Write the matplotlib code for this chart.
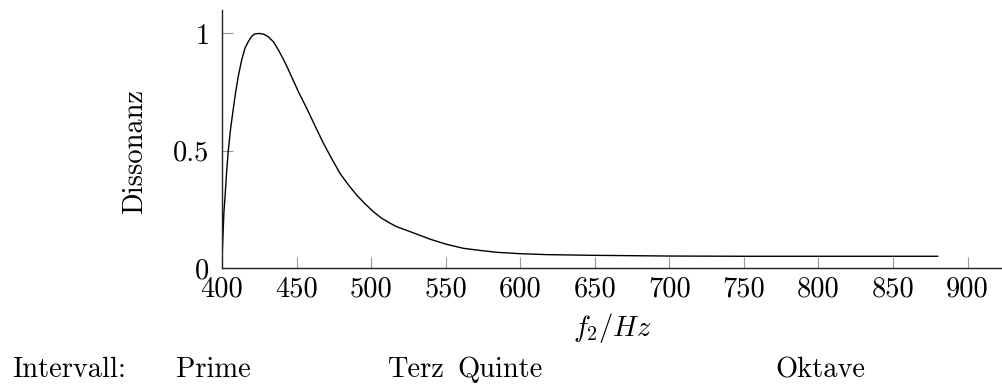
import matplotlib
matplotlib.use("Agg")
import matplotlib.pyplot as plt

plt.rcParams["font.family"] = ["cmr10", "DejaVu Serif"]
plt.rcParams["mathtext.fontset"] = "cm"
plt.rcParams["axes.unicode_minus"] = False

# Dissonanzkurve
freq = [400, 400.2, 401.3, 402, 403.1, 404.2, 405.8, 407.6, 409.2, 411,
        413.2, 415.4, 417.6, 420, 422.1, 425, 428, 431, 434.4, 437.8,
        441.1, 444.5, 451.2, 456.8, 462.4, 468, 473.6, 479.1, 484.7, 490.3,
        495.9, 501.5, 507.1, 512.7, 517.2, 528.3, 539.5, 550, 561.8,
        573, 584.2, 600, 617.8, 650, 700, 750, 800, 880]
dissonance = [0.0, 0.07, 0.24, 0.30, 0.41, 0.50, 0.596, 0.68, 0.752, 0.82,
              0.887, 0.937, 0.965, 0.989, 0.998, 1.0, 0.997, 0.986, 0.965,
              0.930, 0.891, 0.846, 0.752, 0.681, 0.606, 0.532, 0.466, 0.404,
              0.355, 0.311, 0.274, 0.240, 0.212, 0.191, 0.176, 0.150,
              0.123, 0.102, 0.084, 0.075, 0.067, 0.061, 0.057, 0.054, 0.051,
              0.050, 0.050, 0.050]

x_ticks = [400, 450, 500, 550, 600, 650, 700, 750, 800, 850, 900]
y_ticks = [0, 0.5, 1]
y_tick_labels = ["0", "0.5", "1"]

interval_names = ["Intervall:", "Prime", "Terz", "Quinte", "Oktave"]
interval_px = [12, 176, 387, 457, 775]

FS = 20.5
W, H = 1003, 385

fig = plt.figure(figsize=(W / 100, H / 100), dpi=100)
ax = fig.add_axes([222 / W, 1 - 268 / H, 1 - 222 / W, (268 - 10) / H])

ax.plot(freq, dissonance, color="black", linewidth=1.0)

ax.set_xlim(400, 923.8)
ax.set_ylim(0, 1.1)
ax.set_xticks(x_ticks)
ax.set_xticklabels([str(t) for t in x_ticks])
ax.set_yticks(y_ticks)
ax.set_yticklabels(y_tick_labels)

for s in ["top", "right"]:
    ax.spines[s].set_visible(False)
for s in ["left", "bottom"]:
    ax.spines[s].set_color("#222222")
    ax.spines[s].set_linewidth(1.0)

ax.tick_params(direction="in", length=8, width=0.8, color="#999999",
               labelsize=FS, pad=6)
ax.tick_params(axis="y", pad=9)

ax.set_xlabel("$f_2/Hz$", fontsize=FS, labelpad=6)
ax.set_ylabel("Dissonanz", fontsize=FS)
ax.yaxis.set_label_coords(-0.095, 0.45)

for name, px in zip(interval_names, interval_px):
    fig.text(px / W, 1 - 377 / H, name, fontsize=FS, ha="left",
             va="baseline")

fig.savefig("out.png", dpi=100)
